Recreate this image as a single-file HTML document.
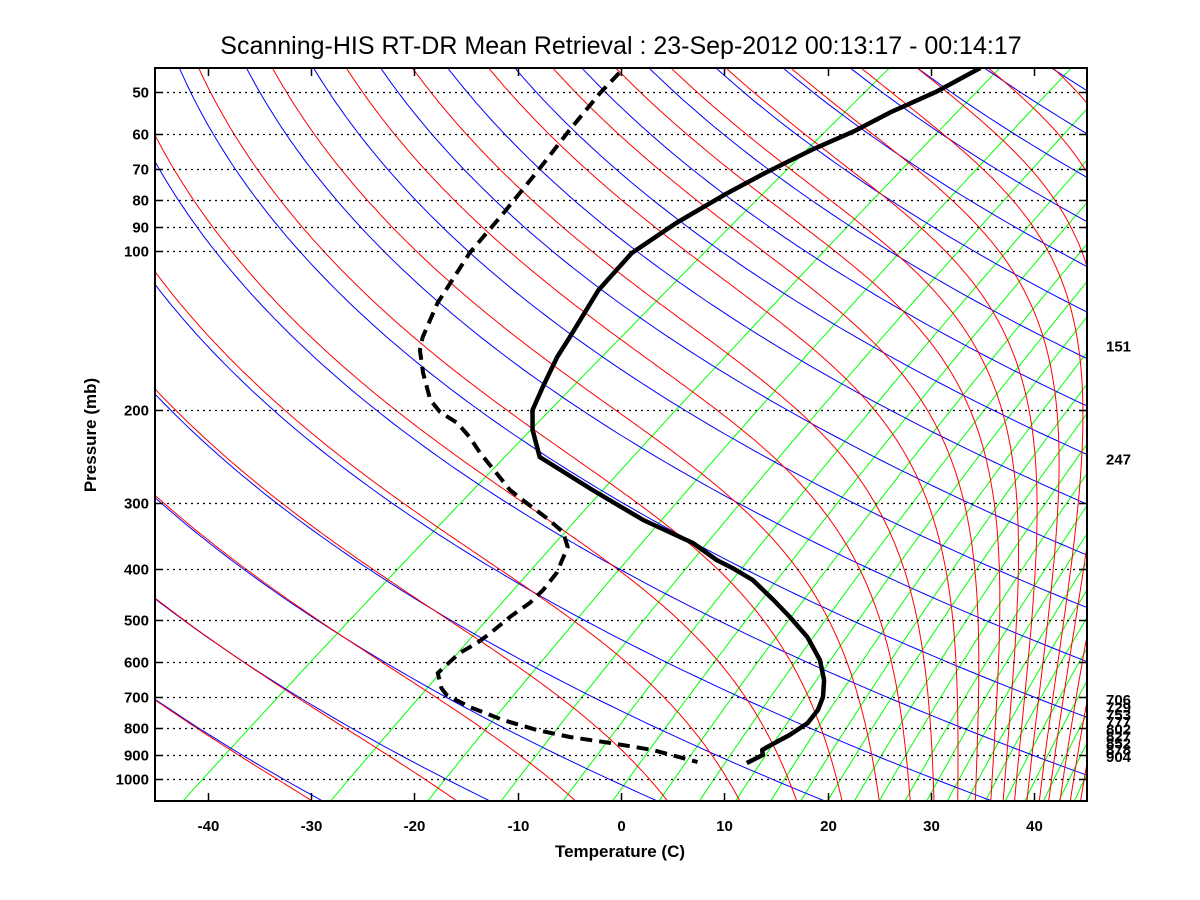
<!DOCTYPE html>
<html><head><meta charset="utf-8"><style>
html,body{margin:0;padding:0;background:#fff;}
svg{display:block;font-family:"Liberation Sans",Arial,sans-serif;}
</style></head><body>
<svg id="chart" width="1200" height="900" viewBox="0 0 1200 900" xmlns="http://www.w3.org/2000/svg">
<rect x="0" y="0" width="1200" height="900" fill="#fff"/>
<defs><clipPath id="plotclip"><rect x="155" y="68" width="932" height="733"/></clipPath></defs>
<text x="621" y="54" font-size="25" text-anchor="middle" fill="#000">Scanning-HIS RT-DR Mean Retrieval : 23-Sep-2012 00:13:17 - 00:14:17</text>
<g id="bg" clip-path="url(#plotclip)"></g>
<g id="grid"></g>
<g id="series" clip-path="url(#plotclip)"></g>
<g id="axes"></g>
<text x="620" y="857" font-size="17" font-weight="bold" text-anchor="middle">Temperature (C)</text>
<text transform="translate(96,435) rotate(-90)" font-size="17" font-weight="bold" text-anchor="middle">Pressure (mb)</text>
</svg>
<script>
// ---- data ----
const tempPressure = [45.0,50.0,54.5,59.3,64.4,71.2,78.3,88.5,100.9,118.6,146.2,158.8,181.0,200.1,218.3,245.6,259.9,283.6,323.2,357.3,384.8,398.6,419.9,458.1,493.4,538.5,595.2,649.4,699.3,740.3,783.4,825.4,869.7,881.2,900.5,932.6];
const tempValues = [-57.6,-58.8,-60.5,-61.6,-63.3,-64.8,-65.9,-66.9,-67.3,-65.7,-62.3,-61.0,-58.5,-56.5,-53.9,-49.7,-46.0,-40.3,-31.5,-23.7,-19.2,-16.6,-13.1,-8.5,-4.7,-0.4,3.8,6.8,8.9,10.1,10.8,10.6,10.0,9.9,10.6,10.1];
const dewPressure = [46.0,50.0,59.0,70.3,84.7,100.9,125.5,145.6,154.0,170.3,191.5,201.8,211.7,225.0,241.3,263.4,283.6,300.1,320.4,340.6,363.6,407.2,438.5,464.2,493.4,529.2,552.7,577.3,629.9,672.6,693.3,730.4,773.1,807.5,832.6,854.6,881.2,928.6];
const dewValues = [-91.9,-91.2,-89.3,-87.1,-84.9,-83.0,-79.6,-76.6,-75.2,-71.9,-67.7,-65.2,-62.1,-59.1,-56.0,-51.8,-48.3,-45.0,-41.1,-37.7,-35.3,-33.0,-32.1,-31.7,-31.8,-31.6,-31.6,-32.0,-31.5,-29.2,-27.8,-24.0,-19.1,-14.5,-10.4,-5.7,-0.7,5.2];
const levelLabels = [151,247,706,729,753,777,802,827,852,878,904];
const pressureTicks = [50,60,70,80,90,100,200,300,400,500,600,700,800,900,1000];
const tempTicks = [-40,-30,-20,-10,0,10,20,30,40];
// background line definitions (bottom-edge skewed temperature)
const mixingBottom = [-42.4,-28.1,-18.7,-11.6,-5.6,-0.8,3.7,7.6,11.1,14.5,17.4,20.0,22.6,25.0,27.5,29.6,31.6,33.5,35.3,37.2,39.1,40.9,42.4,43.9,45.2];
const moistBottom = [-29.9,-15.9,-4.4,4.5,11.5,17.0,21.4,25.0,28.0,30.3,32.6,34.3,35.8,37.0,38.1,39.3,40.5,41.4,42.5,43.5,44.5];
const dryBase = -28.9, dryStep = 16.2;

// ---- axis functions ----
const S = 68.6, X0 = 621, KX = 10.33, Y100 = 251, KY = 528;
const PTOP = 45, PBOT = 1100;
function yOf(p){ return Y100 + KY*Math.log10(p/100); }
function xOf(T,p){ return X0 + KX*(T + S*Math.log10(1000/p)); }
function xDisp(d){ return X0 + KX*d; }
function es(T){ return 6.112*Math.exp(17.67*T/(T+243.5)); }

const NS = "http://www.w3.org/2000/svg";
function mk(tag, attrs, parent){
  const el = document.createElementNS(NS, tag);
  for (const k in attrs) el.setAttribute(k, attrs[k]);
  parent.appendChild(el);
  return el;
}
const bg = document.getElementById('bg');
const grid = document.getElementById('grid');
const series = document.getElementById('series');
const axes = document.getElementById('axes');
function pathFrom(pts){ return pts.map((q,i)=>(i?'L':'M')+q[0].toFixed(1)+','+q[1].toFixed(1)).join(''); }

// mixing ratio lines (green)
mixingBottom.forEach((d,i)=>{
  const T0 = d - S*Math.log10(1000/PBOT);
  const e0 = es(T0);
  const w = 622*e0/(PBOT-e0);
  const pts = [];
  for (let lp=Math.log(PBOT); lp>=Math.log(PTOP)-0.01; lp-=0.02){
    const p = Math.exp(lp);
    const e = w*p/(622+w);
    const L = Math.log(e/6.112);
    const T = 243.5*L/(17.67-L);
    pts.push([xOf(T,p), yOf(p)]);
  }
  const el = mk('path',{d:pathFrom(pts),fill:'none',stroke:'#00ff00','stroke-width':1},bg);
  
  
});
// dry adiabats (blue)
for (let k=-4; k<=22; k++){
  const d = dryBase + dryStep*k;
  const Tb = d - S*Math.log10(1000/PBOT) + 273.15;
  const th = Tb/Math.pow(PBOT/1000,0.286);
  const pts = [];
  for (let lp=Math.log(PBOT); lp>=Math.log(PTOP)-0.01; lp-=0.02){
    const p = Math.exp(lp);
    const T = th*Math.pow(p/1000,0.286)-273.15;
    pts.push([xOf(T,p), yOf(p)]);
  }
  const el = mk('path',{d:pathFrom(pts),fill:'none',stroke:'#0000ff','stroke-width':1},bg);
  
  
}
// moist adiabats (red), plus extra cold ones following dry
const moistAll = moistBottom.slice();
for (let k=1;k<=8;k++) moistAll.unshift(moistBottom[0]-16*k);
moistAll.forEach(d=>{
  let T = d - S*Math.log10(1000/PBOT) + 273.15;
  const pts = [];
  const Rd=287, cp=1005, Lv=2.5e6, eps=0.622;
  let lp = Math.log(PBOT);
  const h = -0.01;
  while (lp >= Math.log(PTOP)-0.02){
    const p = Math.exp(lp);
    pts.push([xOf(T-273.15,p), yOf(p)]);
    const e = es(T-273.15);
    const rs = eps*e/Math.max(p-e,1);
    const dT = (Rd*T + Lv*rs)/(cp + Lv*Lv*rs*eps/(Rd*T*T));
    T += dT*h;
    lp += h;
  }
  const el = mk('path',{d:pathFrom(pts),fill:'none',stroke:'#ff0000','stroke-width':1},bg);
  
  
});

// pressure gridlines + y ticks/labels
pressureTicks.forEach(p=>{
  const y = Math.round(yOf(p))+0.5;
  const g = mk('line',{x1:155,x2:1087,y1:y,y2:y,stroke:'#000','stroke-width':1.2,'stroke-dasharray':'2,4'},grid);
  
  
  mk('line',{x1:155,x2:163,y1:y,y2:y,stroke:'#000','stroke-width':1.5},axes);
  mk('line',{x1:1079,x2:1087,y1:y,y2:y,stroke:'#000','stroke-width':1.5},axes);
  const t = mk('text',{x:149,y:y+5,'font-size':15,'font-weight':'bold','text-anchor':'end'},axes);
  t.textContent = p;
  
  
});
// temperature ticks
tempTicks.forEach(T=>{
  const x = Math.round(xDisp(T))+0.5;
  mk('line',{x1:x,x2:x,y1:801,y2:793,stroke:'#000','stroke-width':1.5},axes);
  mk('line',{x1:x,x2:x,y1:68,y2:76,stroke:'#000','stroke-width':1.5},axes);
  const t = mk('text',{x:x,y:831,'font-size':15,'font-weight':'bold','text-anchor':'middle'},axes);
  t.textContent = T;
  
  
});
// frame
const fr = mk('rect',{x:155,y:68,width:932,height:733,fill:'none',stroke:'#000','stroke-width':2},axes);


// right side level labels
levelLabels.forEach(p=>{
  const t = mk('text',{x:1106,y:yOf(p)+6,'font-size':15,'font-weight':'bold'},axes);
  t.textContent = p;
  
  
});
// profiles
const tPts = tempPressure.map((p,i)=>[xOf(tempValues[i],p), yOf(p)]);
const tl = mk('path',{d:pathFrom(tPts),fill:'none',stroke:'#000','stroke-width':4.5,'stroke-linejoin':'round'},series);


const dPts = dewPressure.map((p,i)=>[xOf(dewValues[i],p), yOf(p)]);
const dl = mk('path',{d:pathFrom(dPts),fill:'none',stroke:'#000','stroke-width':4,'stroke-dasharray':'12,7'},series);


</script>
</body></html>
